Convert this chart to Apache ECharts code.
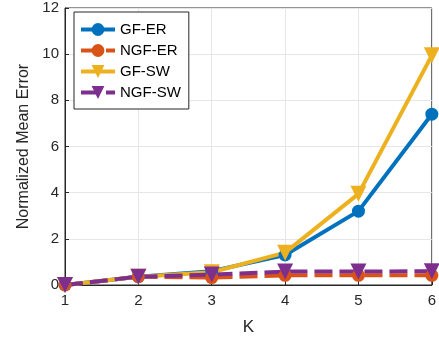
<!DOCTYPE html>
<html>
<head>
<meta charset="utf-8">
<script src="https://cdn.jsdelivr.net/npm/echarts@6/dist/echarts.min.js"></script>
<style>
  html, body { margin: 0; padding: 0; background: #fff; }
  #main { width: 439px; height: 341px; }
</style>
</head>
<body>
<div id="main"></div>
<script>
const kValues = [1, 2, 3, 4, 5, 6];
const gfEr = [0, 0.36, 0.6, 1.3, 3.2, 7.4];
const ngfEr = [0, 0.36, 0.32, 0.42, 0.42, 0.42];
const gfSw = [0, 0.36, 0.55, 1.4, 3.95, 9.95];
const ngfSw = [0, 0.36, 0.45, 0.58, 0.58, 0.6];
const yTicks = [0, 2, 4, 6, 8, 10, 12];

const font = 'Liberation Sans, Arial, sans-serif';
const pair = arr => arr.map((v, i) => [kValues[i], v]);

const chart = echarts.init(document.getElementById('main'));

function line(name, data, color, symbol, size, dashed) {
  return {
    name: name,
    type: 'line',
    data: pair(data),
    symbol: symbol,
    symbolSize: size,
    symbolRotate: symbol === 'triangle' ? 180 : 0,
    color: color,
    lineStyle: { width: 4, color: color, type: dashed ? [18, 7] : 'solid' },
    itemStyle: { color: color },
    animation: false
  };
}

chart.setOption({
  grid: { left: 65, right: 2, top: 8, bottom: 55, show: true, borderColor: '#262626', borderWidth: 1 },
  legend: {
    orient: 'vertical',
    left: 74,
    top: 12,
    itemWidth: 34,
    itemHeight: 16,
    itemGap: 6,
    padding: [10, 8, 9, 5],
    backgroundColor: '#fff',
    borderColor: '#262626',
    borderWidth: 1,
    borderRadius: 0,
    lineStyle: { width: 4 },
    textStyle: { fontFamily: font, fontSize: 15, color: '#000' },
    data: ['GF-ER', 'NGF-ER', 'GF-SW', 'NGF-SW']
  },
  xAxis: {
    type: 'value',
    min: 1, max: 6, interval: 1,
    name: 'K',
    nameLocation: 'middle',
    nameGap: 34,
    nameTextStyle: { fontFamily: font, fontSize: 17, color: '#262626' },
    axisLine: { show: true, lineStyle: { color: '#262626' } },
    axisTick: { show: true, inside: true, length: 4, lineStyle: { color: '#262626' } },
    axisLabel: { fontFamily: font, fontSize: 15, color: '#262626', margin: 8 },
    splitLine: { show: true, lineStyle: { color: '#e6e6e6' } }
  },
  yAxis: {
    type: 'value',
    min: yTicks[0], max: yTicks[yTicks.length - 1], interval: 2,
    name: 'Normalized Mean Error',
    nameLocation: 'middle',
    nameGap: 33,
    nameTextStyle: { fontFamily: font, fontSize: 16, color: '#262626' },
    axisLine: { show: true, lineStyle: { color: '#262626' } },
    axisTick: { show: true, inside: true, length: 4, lineStyle: { color: '#262626' } },
    axisLabel: { fontFamily: font, fontSize: 15, color: '#262626', margin: 6 },
    splitLine: { show: true, lineStyle: { color: '#e6e6e6' } }
  },
  series: [
    line('GF-ER', gfEr, '#0072BD', 'circle', 13, false),
    line('NGF-ER', ngfEr, '#D95319', 'circle', 13, true),
    line('GF-SW', gfSw, '#EDB120', 'triangle', 16, false),
    line('NGF-SW', ngfSw, '#7E2F8E', 'triangle', 16, true)
  ]
});
</script>
</body>
</html>
